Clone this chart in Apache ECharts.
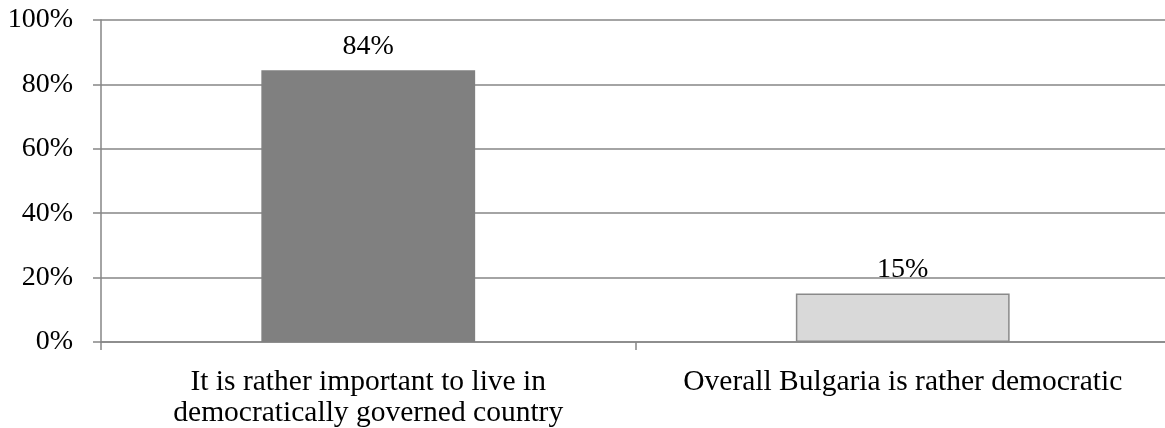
<!DOCTYPE html>
<html><head><meta charset="utf-8">
<script src="https://cdn.jsdelivr.net/npm/echarts@6/dist/echarts.min.js"></script>
<style>html,body{margin:0;padding:0;background:#fff;}#c{width:1165px;height:428px;}</style>
</head><body><div id="c"></div>
<script>
const categories = ["It is rather important to live in\ndemocratically governed country", "Overall Bulgaria is rather democratic"];
const values = [84.4, 15.1];
const yTicks = [0, 20, 40, 60, 80, 100];
const barColors = ["#808080", "#d9d9d9"];
const barBorders = ["#808080", "#898989"];

const chart = echarts.init(document.getElementById('c'));
const font = '"Liberation Serif", "Times New Roman", serif';
chart.setOption({
  animation: false,
  textStyle: {fontFamily: font},
  grid: {left: 101, width: 1069, top: 20, bottom: 86, containLabel: false, outerBoundsMode: 'none'},
  xAxis: {
    type: 'category', data: categories,
    axisLine: {lineStyle: {color: '#868686', width: 1.5}},
    axisTick: {show: true, length: 8, alignWithLabel: false, lineStyle: {color: '#868686', width: 1.5}},
    axisLabel: {fontFamily: font, fontSize: 29.5, color: '#000', lineHeight: 31, margin: 25, interval: 0}
  },
  yAxis: {
    type: 'value', min: 0, max: yTicks[yTicks.length-1], interval: 20,
    axisLine: {show: true, lineStyle: {color: '#868686', width: 1.5}},
    axisTick: {show: true, length: 8, lineStyle: {color: '#868686', width: 1.5}},
    axisLabel: {fontFamily: font, fontSize: 28, color: '#000', margin: 28, formatter: v => v + '%'},
    splitLine: {lineStyle: {color: '#868686', width: 1.5}}
  },
  series: [{
    type: 'bar', barWidth: '40%',
    data: values.map((v, i) => ({value: v, itemStyle: {color: barColors[i], borderColor: barBorders[i], borderWidth: 1.5}})),
    label: {show: true, position: 'top', distance: 10, fontFamily: font, fontSize: 28, color: '#000', formatter: p => Math.round(p.value) + '%'}
  }]
});
</script></body></html>
